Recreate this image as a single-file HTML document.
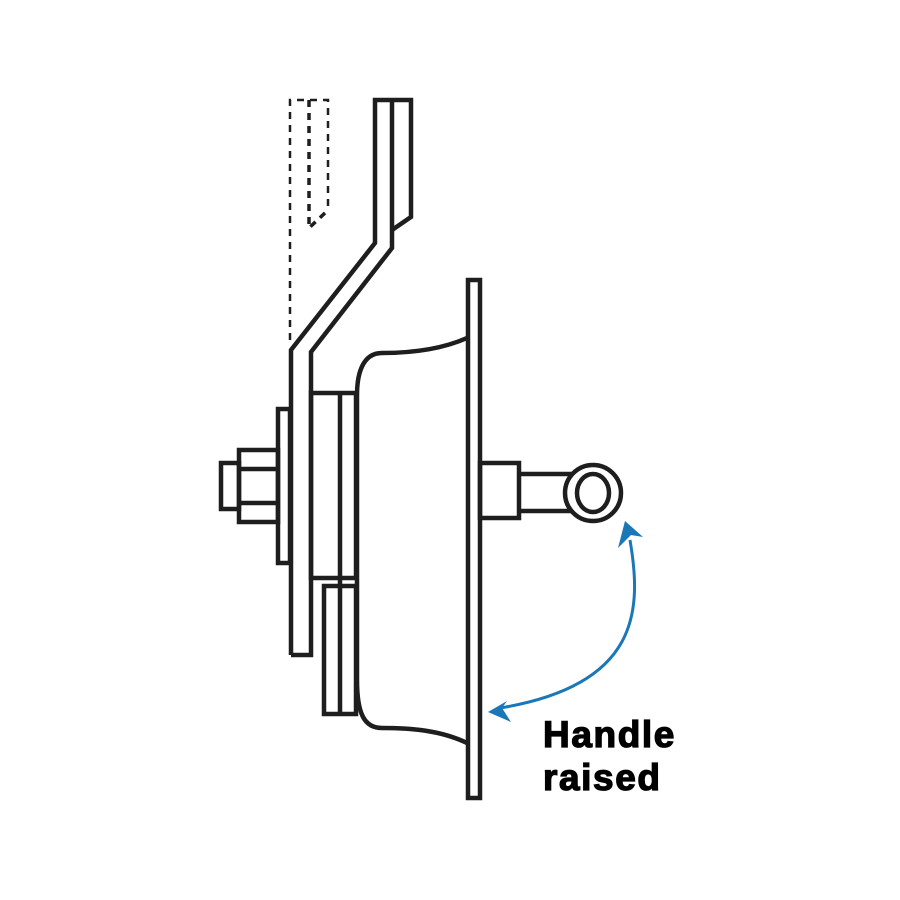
<!DOCTYPE html>
<html><head><meta charset="utf-8"><style>html,body{margin:0;padding:0;background:#fff}svg{display:block}</style></head>
<body>
<svg width="900" height="900" viewBox="0 0 900 900" xmlns="http://www.w3.org/2000/svg">
<g fill="none" stroke="#1e1e1e" stroke-width="4.5" stroke-linejoin="miter">
<g stroke-width="2.5" stroke-dasharray="7,6">
<path d="M290,340 V100 H328 V210"/>
</g>
<path d="M309,100 V228 L326,212" stroke-width="3.5" stroke-dasharray="7,6"/>
<path d="M291,655 V350 L375,243 V100 H411 V217 L392,230"/>
<path d="M392,100 V248 L311,352 V655 H291"/>
<path d="M467,338 C440,350 410,353 382,353 C362,353 357,375 357,395 V680 C357,715 365,728 382,728 C410,728 440,730 467,743"/>
<rect x="311" y="393" width="45" height="185"/>
<line x1="340" y1="393" x2="340" y2="578"/>
<rect x="324" y="586" width="32" height="128"/>
<line x1="340" y1="578" x2="340" y2="714"/>
<rect x="278" y="409" width="12" height="154"/>
<rect x="239" y="450" width="39" height="72"/>
<line x1="239" y1="469" x2="278" y2="469"/>
<line x1="239" y1="503" x2="278" y2="503"/>
<rect x="221" y="463" width="18" height="46"/>
<rect x="468" y="280" width="12" height="518"/>
<rect x="480" y="463" width="39" height="55"/>
<path d="M519,474 H572 M519,511 H572"/>
<circle cx="593" cy="493" r="28" fill="#fff"/>
<ellipse cx="593" cy="493" rx="16" ry="19"/>
</g>
<path d="M630,540 C642,610 640,685 500,708" fill="none" stroke="#1a78b8" stroke-width="3"/>
<polygon points="625,521 643,537 631,535 618,548" fill="#1a78b8"/>
<polygon points="488,712 507,701 502,708 511,722" fill="#1a78b8"/>
<g font-family="Liberation Sans, sans-serif" font-weight="bold" font-size="37" fill="#000" stroke="#000" stroke-width="1.3" letter-spacing="1.6">
<text x="543" y="747">Handle</text>
<text x="543" y="790">raised</text>
</g>
</svg>
</body></html>
